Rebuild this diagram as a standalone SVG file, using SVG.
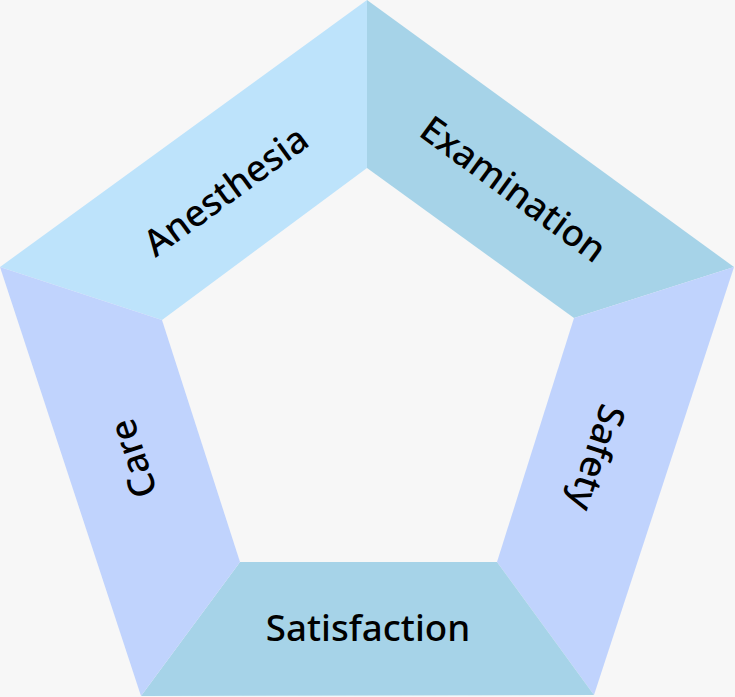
<svg xmlns="http://www.w3.org/2000/svg" width="735" height="697" viewBox="0 0 735 697">
<style>
.lbl{font-family:"Noto Sans","Open Sans","Liberation Sans",sans-serif;font-size:36.7px;font-weight:500;fill:#000;text-anchor:middle;dominant-baseline:central}
</style>
<rect width="735" height="697" fill="#f7f7f7"/>
<g id="anesthesia">
<polygon points="367,0 367,168 162,320 0,267" fill="#bde3fb"/>
<text class="lbl" transform="translate(225,190) rotate(-36.1)">Anesthesia</text>
</g>
<g id="examination">
<polygon points="367,0 734,267 574,318 367,168" fill="#a6d3e8"/>
<text class="lbl" transform="translate(514,188) rotate(36.1)">Examination</text>
</g>
<g id="safety">
<polygon points="734,267 594,695 497,562 574,318" fill="#c0d3fd"/>
<text class="lbl" transform="translate(598,458) rotate(108.1)">Safety</text>
</g>
<g id="satisfaction">
<polygon points="594,695 141,696 240,562 497,562" fill="#a6d3e8"/>
<text class="lbl" x="368" y="627">Satisfaction</text>
</g>
<g id="care">
<polygon points="141,696 0,267 162,320 240,562" fill="#c0d3fd"/>
<text class="lbl" transform="translate(132,459) rotate(-108.1)">Care</text>
</g>
<g id="connectors"></g>
</svg>
